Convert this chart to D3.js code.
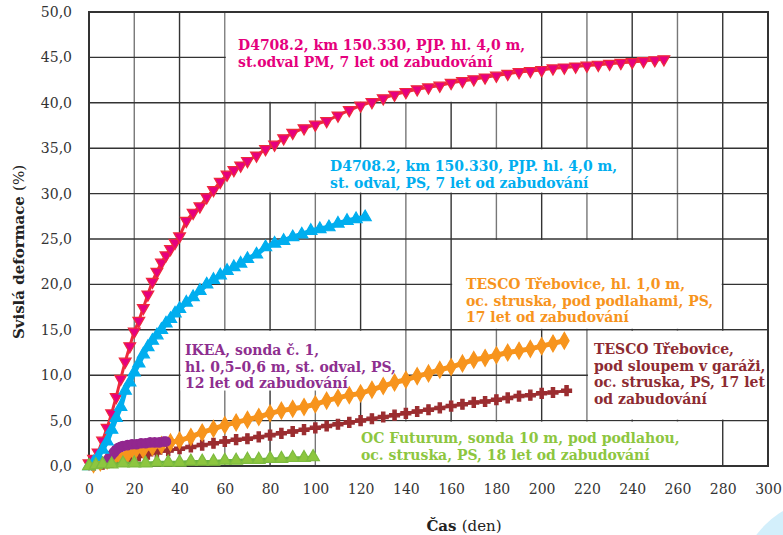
<!DOCTYPE html>
<html>
<head>
<meta charset="utf-8">
<script src="https://cdn.jsdelivr.net/npm/d3@7"></script>
<style>
  body { margin: 0; background: #fff; }
  text { font-family: "DejaVu Serif", serif; }
</style>
</head>
<body>
<div id="chart-area"></div>
<script>
// values: [day, deformation %]
const pmD4708 = [[0,0.3],[2,0.8],[4,1.5],[6,2.8],[8,4.2],[10,5.8],[12,7.6],[14,9.6],[16,11.5],[18,13.2],[20,14.8],[22,16.0],[24,17.4],[26,18.9],[28,20.3],[30,21.4],[32,22.4],[34,23.2],[36,23.9],[38,24.6],[40,25.3],[43,27.0],[46,27.9],[49,28.6],[52,29.6],[55,30.4],[58,31.3],[61,32.1],[64,32.6],[67,33.1],[70,33.6],[74,34.2],[78,34.9],[82,35.4],[86,36.1],[90,36.7],[95,37.2],[100,37.6],[105,38.0],[110,38.6],[115,39.2],[120,39.7],[125,40.1],[130,40.5],[135,40.9],[140,41.2],[145,41.5],[150,41.7],[155,41.9],[160,42.2],[165,42.4],[170,42.6],[175,42.8],[180,43.0],[185,43.2],[190,43.4],[195,43.5],[200,43.6],[205,43.8],[210,43.9],[215,44.0],[220,44.1],[225,44.2],[230,44.3],[235,44.4],[240,44.5],[245,44.6],[250,44.7],[254,44.8]];
const psD4708 = [[0,0.0],[2,0.4],[4,1.0],[6,1.8],[8,2.7],[10,4.0],[12,5.3],[14,6.5],[16,8.3],[18,9.2],[20,10.3],[22,11.3],[24,12.3],[26,13.1],[28,13.8],[30,14.4],[32,15.0],[34,15.7],[36,16.2],[38,16.8],[40,17.3],[43,18.0],[46,18.6],[49,19.3],[52,20.0],[55,20.5],[58,21.0],[61,21.5],[64,21.9],[67,22.3],[70,22.8],[74,23.3],[78,24.1],[82,24.5],[86,24.8],[90,25.2],[94,25.5],[98,25.9],[102,26.1],[106,26.3],[110,26.7],[114,27.0],[118,27.2],[122,27.4]];
const ikea = [[8,0.6],[9,0.9],[10,1.2],[11,1.5],[12,1.8],[13,2.0],[14,2.1],[15,2.2],[17,2.3],[19,2.4],[21,2.4],[23,2.5],[25,2.5],[27,2.6],[29,2.6],[31,2.6],[33,2.7],[34,2.7]];
const tescoPodlahy = [[2,0.2],[5,0.4],[8,0.6],[11,0.8],[14,1.0],[17,1.3],[20,1.5],[24,1.8],[28,2.1],[32,2.3],[36,2.6],[40,2.8],[45,3.2],[50,3.7],[55,4.1],[60,4.5],[65,4.8],[70,5.1],[75,5.4],[80,5.8],[85,6.1],[90,6.3],[95,6.5],[100,6.8],[105,7.2],[110,7.5],[115,7.8],[120,8.0],[125,8.4],[130,8.8],[135,9.2],[140,9.5],[145,9.9],[150,10.2],[155,10.6],[160,10.9],[165,11.3],[170,11.7],[175,11.9],[180,12.2],[185,12.5],[190,12.7],[195,12.9],[200,13.2],[205,13.5],[210,13.8]];
const tescoGaraz = [[2,0.1],[6,0.2],[10,0.4],[14,0.6],[18,0.9],[22,1.1],[26,1.3],[30,1.5],[35,1.7],[40,1.9],[45,2.1],[50,2.3],[55,2.5],[60,2.7],[65,2.9],[70,3.0],[75,3.2],[80,3.4],[85,3.6],[90,3.8],[95,4.0],[100,4.2],[105,4.4],[110,4.6],[115,4.8],[120,5.0],[125,5.2],[130,5.4],[135,5.6],[140,5.8],[145,6.0],[150,6.2],[155,6.4],[160,6.6],[165,6.8],[170,7.0],[175,7.1],[180,7.3],[185,7.5],[190,7.7],[195,7.8],[200,8.0],[205,8.1],[211,8.3]];
const futurum = [[0,0.0],[3,0.1],[6,0.2],[10,0.2],[15,0.3],[20,0.3],[25,0.3],[30,0.4],[35,0.4],[40,0.4],[45,0.5],[50,0.5],[55,0.5],[60,0.6],[65,0.6],[70,0.7],[75,0.7],[80,0.8],[85,0.8],[90,0.9],[95,0.9],[99,1.0]];

const xTicks = d3.range(0, 301, 20);
const yTicks = d3.range(0, 51, 5);

const labelPM = ["D4708.2, km 150.330, PJP. hl. 4,0 m,", "st.odval PM, 7 let od zabudování"];
const labelPS = ["D4708.2, km 150.330, PJP. hl. 4,0 m,", "st. odval, PS, 7 let od zabudování"];
const labelPodlahy = ["TESCO Třebovice, hl. 1,0 m,", "oc. struska, pod podlahami, PS,", "17 let od zabudování"];
const labelGaraz = ["TESCO Třebovice,", "pod sloupem v garáži,", "oc. struska, PS, 17 let", "od zabudování"];
const labelIkea = ["IKEA, sonda č. 1,", "hl. 0,5–0,6 m, st. odval, PS,", "12 let od zabudování"];
const labelFuturum = ["OC Futurum, sonda 10 m, pod podlahou,", "oc. struska, PS, 18 let od zabudování"];

const W = 783, H = 535;
const svg = d3.select("#chart-area").append("svg")
  .attr("width", W)
  .attr("height", H);

// decorative blob bottom right
svg.append("circle")
  .attr("cx", 830).attr("cy", 590).attr("r", 92)
  .attr("fill", "#d3effb");

const x = d3.scaleLinear().domain([0, 300]).range([89, 768]);
const y = d3.scaleLinear().domain([0, 50]).range([466, 12]);

// grid
const grid = svg.append("g");
grid.selectAll(".vx").data(xTicks).enter().append("line")
  .attr("x1", d => x(d)).attr("x2", d => x(d))
  .attr("y1", y(0)).attr("y2", y(50))
  .attr("stroke", (d, i) => i % 2 ? "#777" : "#333")
  .attr("stroke-width", 1.4);
grid.selectAll(".hy").data(yTicks).enter().append("line")
  .attr("x1", x(0)).attr("x2", x(300))
  .attr("y1", d => y(d)).attr("y2", d => y(d))
  .attr("stroke", "#333")
  .attr("stroke-width", 1.4);

// white boxes behind the labels (in data units: t0, t1, v0, v1)
const boxes = [[60,200,40,50],[60,240,30,35],[160,280,15,25],[220,300,5,15],[40,140,8.2,15],[100,280,0,5]];
svg.append("g").selectAll("rect").data(boxes).enter().append("rect")
  .attr("x", d => x(d[0]) + 1)
  .attr("y", d => y(d[3]) + 1)
  .attr("width", d => x(d[1]) - x(d[0]) - 2)
  .attr("height", d => y(d[2]) - y(d[3]) - 2)
  .attr("fill", "#fff");

// frame
svg.append("rect")
  .attr("x", x(0)).attr("y", y(50))
  .attr("width", x(300) - x(0)).attr("height", y(0) - y(50))
  .attr("fill", "none").attr("stroke", "#333").attr("stroke-width", 2);

// axes
const xAxis = d3.axisBottom(x).tickValues(xTicks).tickSize(0).tickPadding(18);
svg.append("g").attr("transform", "translate(0," + y(0) + ")").call(xAxis)
  .call(g => g.select(".domain").remove())
  .selectAll("text").attr("font-size", 14).attr("fill", "#333")
  .style("font-family", "DejaVu Serif");

const yAxis = d3.axisLeft(y).tickValues(yTicks).tickSize(0).tickPadding(17)
  .tickFormat(d => d3.format(".1f")(d).replace(".", ","));
svg.append("g").attr("transform", "translate(" + x(0) + ",0)").call(yAxis)
  .call(g => g.select(".domain").remove())
  .selectAll("text").attr("font-size", 14).attr("fill", "#333")
  .style("font-family", "DejaVu Serif");

// axis titles
const yt = svg.append("text")
  .attr("transform", "translate(24,252) rotate(-90)")
  .attr("text-anchor", "middle")
  .attr("font-size", 15).attr("fill", "#222");
yt.append("tspan").attr("font-weight", "bold").text("Svislá deformace ");
yt.append("tspan").text("(%)");

const xt = svg.append("text")
  .attr("x", 464).attr("y", 531)
  .attr("text-anchor", "middle")
  .attr("font-size", 15).attr("fill", "#222");
xt.append("tspan").attr("font-weight", "bold").text("Čas ");
xt.append("tspan").text("(den)");

// series
const line = d3.line().x(d => x(d[0])).y(d => y(d[1]));

function drawSeries(data, lineColor, lw, symbol, size, fill, stroke, rot) {
  const g = svg.append("g");
  g.append("path").datum(data)
    .attr("d", line)
    .attr("fill", "none")
    .attr("stroke", lineColor)
    .attr("stroke-width", lw);
  g.selectAll("path.m").data(data).enter().append("path")
    .attr("class", "m")
    .attr("d", d3.symbol().type(symbol).size(size))
    .attr("transform", d => "translate(" + x(d[0]) + "," + y(d[1]) + ") rotate(" + (rot || 0) + ")")
    .attr("fill", fill)
    .attr("stroke", stroke)
    .attr("stroke-width", 1.2);
}

drawSeries(tescoGaraz, "#9b2d30", 3, d3.symbolCross, 55, "#9b2d30", "#9b2d30");
drawSeries(tescoPodlahy, "#f7941d", 5, d3.symbolDiamond, 80, "#f7941d", "#f7941d");
drawSeries(ikea, "#92278f", 8, d3.symbolCircle, 70, "#92278f", "#92278f");
drawSeries(pmD4708, "#ee2a3b", 3, d3.symbolTriangle, 60, "#e6007e", "#ee2a3b", 180);
drawSeries(psD4708, "#00aeef", 5, d3.symbolTriangle, 65, "#00aeef", "#00aeef", 0);
drawSeries(futurum, "#6cb33f", 3, d3.symbolTriangle, 70, "#8dc63f", "#7dbb3f", 0);

// labels
const labels = [
  [labelPM, 238, 50, "#e5007d"],
  [labelPS, 330, 171, "#00aeef"],
  [labelPodlahy, 466, 289, "#f7941d"],
  [labelGaraz, 594, 354, "#8d2b32"],
  [labelIkea, 185, 355, "#8e2f8f"],
  [labelFuturum, 361, 443, "#8dc63f"]
];
labels.forEach(function (lab) {
  const t = svg.append("text")
    .attr("x", lab[1]).attr("y", lab[2])
    .attr("font-size", 14).attr("font-weight", "bold")
    .attr("fill", lab[3]);
  lab[0].forEach(function (s, i) {
    t.append("tspan").attr("x", lab[1]).attr("dy", i ? 16.5 : 0).text(s);
  });
});
</script>
</body>
</html>
